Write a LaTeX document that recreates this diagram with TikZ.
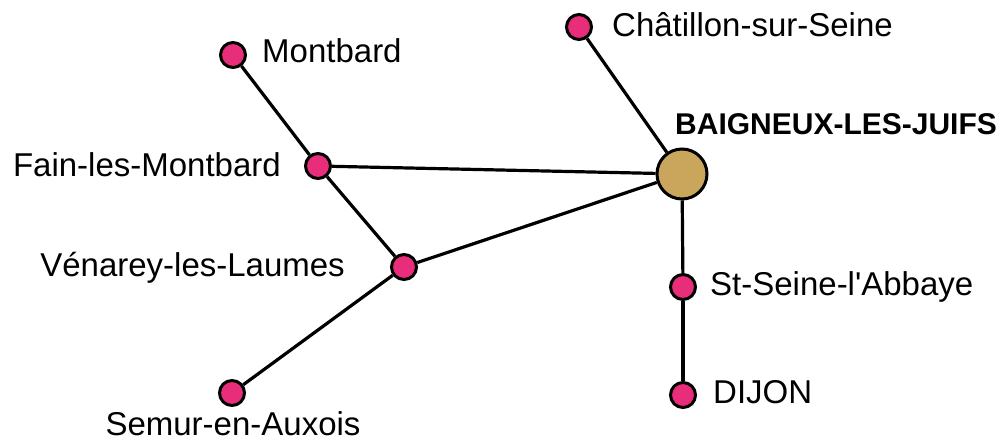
\documentclass[tikz,border=0pt]{standalone}
\usepackage{fontspec}
\setmainfont{Liberation Sans}[Ligatures=TeXOff]
\definecolor{dotpink}{RGB}{232,45,122}
\definecolor{dotgold}{RGB}{201,166,92}
\begin{document}
\begin{tikzpicture}[x=1pt,y=-1pt,
  town/.style={circle,draw=black,line width=3pt,fill=dotpink,minimum size=25pt,inner sep=0pt},
  hub/.style={circle,draw=black,line width=3pt,fill=dotgold,minimum size=50pt,inner sep=0pt},
  lbl/.style={anchor=base west,inner sep=0pt,font=\fontsize{33}{40}\selectfont},
  link/.style={line width=3.2pt,black}]
\useasboundingbox (0,0) rectangle (1005,443);
\node[town] (mont) at (233,55) {};
\node[town] (chat) at (579,27) {};
\node[hub] (baig) at (682,174) {};
\node[town] (fain) at (318,166) {};
\node[town] (ven) at (404,267) {};
\node[town] (sem) at (232,393) {};
\node[town] (stse) at (683,287) {};
\node[town] (dij) at (683,395) {};
\node[lbl] (tmont) at (262,63) {Montbard};
\node[lbl] (tchat) at (612,37) {Châtillon-sur-Seine};
\node[anchor=base west,inner sep=0pt,font=\fontsize{30}{36}\selectfont\bfseries] (tbaig) at (675,135) {BAIGNEUX-LES-JUIFS};
\node[lbl,anchor=base east] (tfain) at (281,177) {Fain-les-Montbard};
\node[lbl,anchor=base east] (tven) at (345,277) {Vénarey-les-Laumes};
\node[lbl,anchor=base] (tsem) at (233,436) {Semur-en-Auxois};
\node[lbl] (tstse) at (710,296) {St-Seine-l'Abbaye};
\node[lbl] (tdij) at (713,404) {DIJON};
\draw[link] (mont) -- (fain);
\draw[link] (chat) -- (baig);
\draw[link] (fain) -- (baig);
\draw[link] (fain) -- (ven);
\draw[link] (ven) -- (baig);
\draw[link] (ven) -- (sem);
\draw[link] (baig) -- (stse);
\draw[link] (stse) -- (dij);
\end{tikzpicture}
\end{document}
